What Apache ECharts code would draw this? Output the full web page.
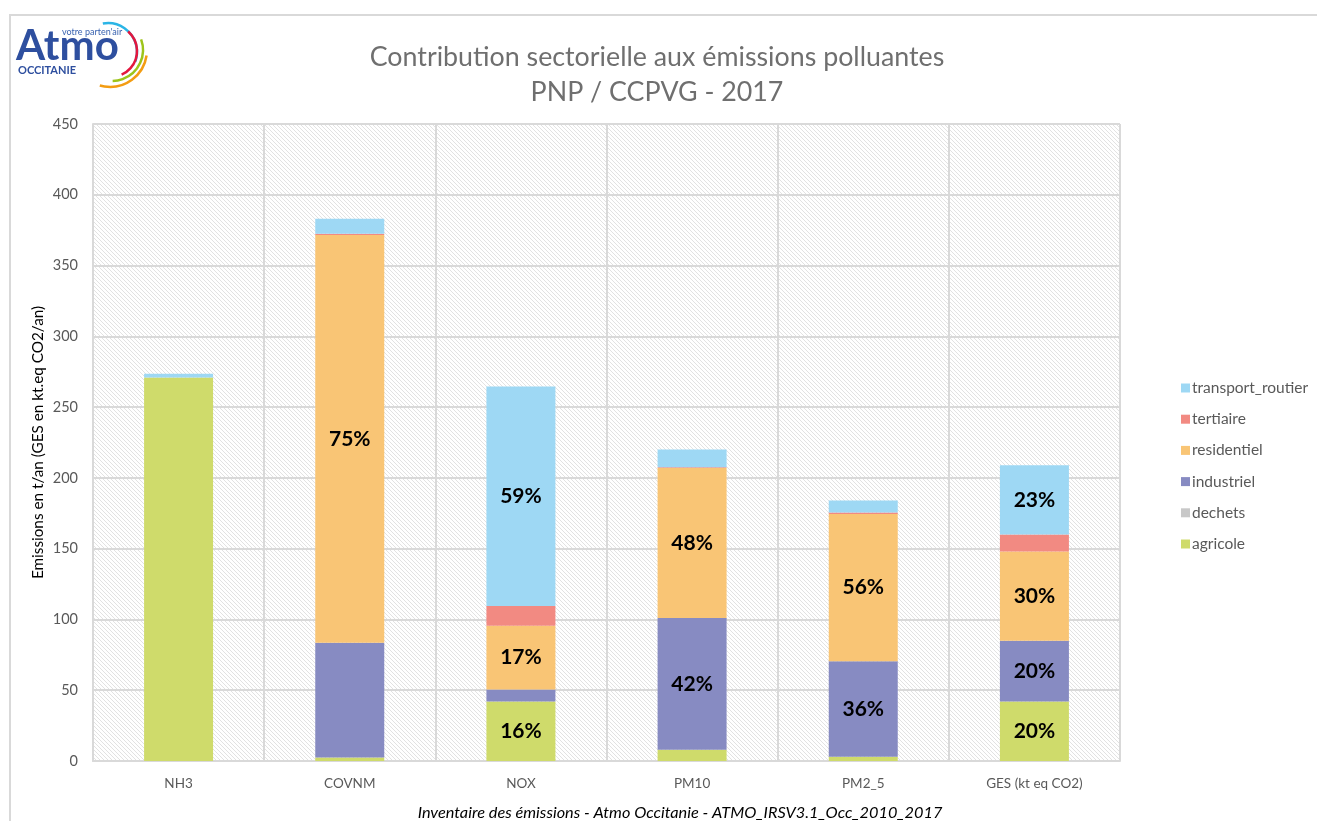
<!DOCTYPE html>
<html>
<head>
<meta charset="utf-8">
<script src="https://cdn.jsdelivr.net/npm/echarts@6/dist/echarts.min.js"></script>
<style>
  html, body { margin: 0; padding: 0; background: #fff; }
  #chart { width: 1317px; height: 821px; }
</style>
</head>
<body>
<div id="chart"></div>
<script>
const categories = ['NH3', 'COVNM', 'NOX', 'PM10', 'PM2_5', 'GES (kt eq CO2)'];

// stacked values, bottom to top
const agricole = [271, 2.5, 42, 8, 3, 42];
const dechets = [0, 0, 0, 0, 0, 0];
const industriel = [0, 81, 8.5, 93, 67.5, 43];
const residentiel = [0, 288, 45, 106, 104, 63];
const tertiaire = [0, 1, 14, 0.5, 1, 12];
const transportRoutier = [2.5, 10.5, 155, 12.5, 8.5, 49];

// percentage labels shown inside the bars
const agricoleLabels = ['', '', '16%', '', '', '20%'];
const industrielLabels = ['', '', '', '42%', '36%', '20%'];
const residentielLabels = ['', '75%', '17%', '48%', '56%', '30%'];
const transportLabels = ['', '', '59%', '', '', '23%'];

const yTicks = [0, 450, 50];

const FONT = 'Lato, "Open Sans", sans-serif';

// hatch pattern for the plot background
function makeHatch() {
	const c = document.createElement('canvas');
	c.width = 4;
	c.height = 4;
	const ctx = c.getContext('2d');
	ctx.fillStyle = '#ffffff';
	ctx.fillRect(0, 0, 4, 4);
	ctx.strokeStyle = '#e2e2e2';
	ctx.lineWidth = 1;
	ctx.beginPath();
	ctx.moveTo(-1, -1);
	ctx.lineTo(5, 5);
	ctx.stroke();
	return c;
}

function series(name, data, color, labels) {
	return {
		name: name,
		type: 'bar',
		stack: 'total',
		barWidth: 69,
		data: data,
		itemStyle: { color: color },
		label: {
			show: !!labels,
			position: 'inside',
			color: '#000',
			fontWeight: 'bold',
			fontSize: 21,
			fontFamily: FONT,
			formatter: (p) => labels ? labels[p.dataIndex] : ''
		}
	};
}

const chart = echarts.init(document.getElementById('chart'));

chart.setOption({
	backgroundColor: '#fff',
	animation: false,
	title: [
		{
			text: 'Contribution sectorielle aux émissions polluantes\nPNP / CCPVG - 2017',
			left: 652,
			top: 35,
			textAlign: 'center',
			textStyle: {
				color: '#6f6f6f',
				fontSize: 26.8,
				fontWeight: 'normal',
				fontFamily: FONT,
				lineHeight: 35
			}
		},
		{
			text: 'Inventaire des émissions - Atmo Occitanie - ATMO_IRSV3.1_Occ_2010_2017',
			left: 675,
			top: 800,
			textAlign: 'center',
			textStyle: {
				color: '#000',
				fontSize: 16.3,
				fontWeight: 'normal',
				fontStyle: 'italic',
				fontFamily: FONT
			}
		}
	],
	legend: {
		orient: 'vertical',
		left: 1176,
		top: 375,
		itemWidth: 9,
		itemHeight: 9,
		itemGap: 15.2,
		icon: 'rect',
		data: ['transport_routier', 'tertiaire', 'residentiel', 'industriel', 'dechets', 'agricole'],
		textStyle: { color: '#595959', fontSize: 15.5, fontFamily: FONT, padding: [0, 0, 0, -3] }
	},
	grid: {
		left: 93,
		right: 197,
		top: 124,
		bottom: 60,
		show: true,
		borderWidth: 0,
		backgroundColor: { image: makeHatch(), repeat: 'repeat' }
	},
	xAxis: {
		type: 'category',
		data: categories,
		axisLine: { lineStyle: { color: '#d9d9d9', width: 2 } },
		axisTick: { show: false },
		axisLabel: { color: '#595959', fontSize: 13.5, fontFamily: FONT, margin: 16 },
		splitLine: { show: true, lineStyle: { color: '#d9d9d9', width: 2 } }
	},
	yAxis: {
		type: 'value',
		min: yTicks[0],
		max: yTicks[1],
		interval: yTicks[2],
		name: 'Emissions en t/an (GES en kt.eq CO2/an)',
		nameLocation: 'middle',
		nameGap: 47,
		nameRotate: 90,
		nameMoveOverlap: false,
		nameTextStyle: { color: '#000', fontSize: 15.3, fontFamily: FONT },
		axisLine: { show: true, lineStyle: { color: '#d9d9d9', width: 2 } },
		axisTick: { show: false },
		axisLabel: { color: '#595959', fontSize: 14.5, fontFamily: FONT, margin: 15 },
		splitLine: { lineStyle: { color: '#d9d9d9', width: 2 } }
	},
	series: [
		series('agricole', agricole, '#cfdb6b', agricoleLabels),
		series('dechets', dechets, '#c8c8c8', null),
		series('industriel', industriel, '#878bc2', industrielLabels),
		series('residentiel', residentiel, '#f9c575', residentielLabels),
		series('tertiaire', tertiaire, '#f28a82', null),
		series('transport_routier', transportRoutier, '#9ed8f4', transportLabels)
	],
	graphic: [
		// outer frame
		{
			type: 'rect',
			shape: { x: 10, y: 15, width: 1320, height: 830 },
			style: { fill: null, stroke: '#d9d9d9', lineWidth: 2 },
			z: -1
		},
		// logo
		{
			type: 'text',
			left: 16,
			top: 25,
			style: { text: 'Atmo', fill: '#2e4f9f', font: 'bold 42px ' + FONT }
		},
		{
			type: 'text',
			left: 62,
			top: 28,
			style: { text: "votre parten'air", fill: '#3a63b0', font: '9px ' + FONT }
		},
		{
			type: 'text',
			left: 18,
			top: 65,
			style: { text: 'OCCITANIE', fill: '#2e4f9f', font: 'bold 11px ' + FONT }
		},
		{
			type: 'arc',
			shape: { cx: 108, cy: 52, r: 29, startAngle: -1.75, endAngle: 0.35 },
			style: { stroke: '#2bb5e6', lineWidth: 2.5, fill: null }
		},
		{
			type: 'arc',
			shape: { cx: 111, cy: 51, r: 26, startAngle: -0.85, endAngle: 1.15 },
			style: { stroke: '#e3173e', lineWidth: 2.5, fill: null }
		},
		{
			type: 'arc',
			shape: { cx: 112, cy: 50, r: 31, startAngle: -0.35, endAngle: 1.55 },
			style: { stroke: '#9dc41a', lineWidth: 2.5, fill: null }
		},
		{
			type: 'arc',
			shape: { cx: 110, cy: 50, r: 37, startAngle: 0.15, endAngle: 1.85 },
			style: { stroke: '#f39c12', lineWidth: 2.5, fill: null }
		}
	]
});
</script>
</body>
</html>
